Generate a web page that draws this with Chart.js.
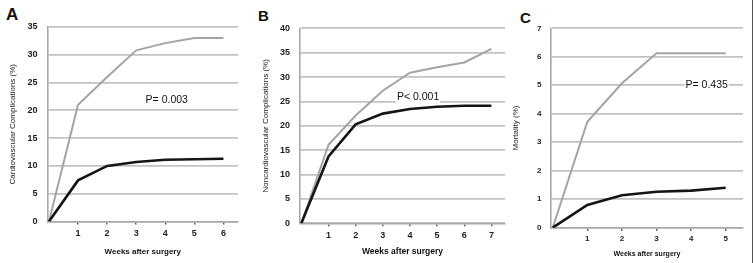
<!DOCTYPE html>
<html>
<head>
<meta charset="utf-8">
<script src="https://cdn.jsdelivr.net/npm/chart.js@4.4.0/dist/chart.umd.min.js"></script>
<style>
  body { margin: 0; background: #fff; width: 753px; height: 263px; overflow: hidden; position: relative; font-family: "Liberation Sans", Arial, sans-serif; }
  canvas { position: absolute; top: 0; }
  .tag { position: absolute; font-weight: bold; color: #111; line-height: 1; }
  #edge { position: absolute; left: 752px; top: 0; width: 1px; height: 263px; background: #555; }
</style>
</head>
<body>
<div class="tag" style="left:6px;top:6px;font-size:17px">A</div>
<div class="tag" style="left:258px;top:8px;font-size:15px">B</div>
<div class="tag" style="left:520px;top:9.5px;font-size:15px">C</div>
<canvas id="chartA" style="left:0px" width="245" height="263"></canvas>
<canvas id="chartB" style="left:251px" width="256" height="263"></canvas>
<canvas id="chartC" style="left:507px" width="246" height="263"></canvas>
<div id="edge"></div>
<script>
// values
const weeksA = [0, 1, 2, 3, 4, 5, 6];
const grayA = [0, 21, 26, 30.8, 32.1, 33, 33];
const blackA = [0, 7.4, 10, 10.7, 11.1, 11.2, 11.3];

const weeksB = [0, 1, 2, 3, 4, 5, 6, 7];
const grayB = [0, 16.1, 22.1, 27.2, 30.9, 32, 33, 35.8];
const blackB = [0, 13.7, 20.3, 22.5, 23.45, 23.9, 24.1, 24.1];

const weeksC = [0, 1, 2, 3, 4, 5];
const grayC = [0, 3.72, 5.07, 6.12, 6.12, 6.12];
const blackC = [0, 0.8, 1.14, 1.26, 1.3, 1.4];

const yTitles = ["Cardiovascular Complications (%)", "Noncardiovascular Complications (%)", "Mortality (%)"];
const yMax = [35, 40, 7];
const yStep = [5, 5, 1];
const xTitle = "Weeks after surgery";

const pTexts = ["P= 0.003", "P< 0.001", "P= 0.435"];
const pWeek = [4.05, 4.3, 4.45];
const pValue = [21.8, 25.8, 5.0];

Chart.defaults.font.family = '"Liberation Sans", Arial, sans-serif';

// P value label, drawn under the lines
const pLabel = {
  id: "pLabel",
  beforeDatasetsDraw(chart, args, o) {
    const ctx = chart.ctx;
    const x = chart.scales.x.getPixelForValue(o.week);
    const y = chart.scales.y.getPixelForValue(o.value);
    ctx.save();
    ctx.font = o.size + 'px "Liberation Sans", Arial, sans-serif';
    const w = ctx.measureText(o.text).width;
    ctx.fillStyle = "#fff";
    ctx.fillRect(x - w / 2 - 1, y - o.size / 2 - 1, w + 2, o.size + 2);
    ctx.fillStyle = "#111";
    ctx.textAlign = "center";
    ctx.textBaseline = "middle";
    ctx.fillText(o.text, x, y);
    ctx.restore();
  }
};

function points(weeks, vals) {
  return weeks.map((w, i) => ({ x: w, y: vals[i] }));
}

function makePanel(id, i, weeks, gray, black, L) {
  const n = weeks[weeks.length - 1];
  new Chart(document.getElementById(id), {
    type: "line",
    data: {
      datasets: [
        { data: points(weeks, black), borderColor: "#151515", borderWidth: 2.6, pointRadius: 0, tension: 0 },
        { data: points(weeks, gray), borderColor: "#a4a4a4", borderWidth: 2, pointRadius: 0, tension: 0 }
      ]
    },
    options: {
      responsive: false,
      animation: false,
      layout: { padding: { left: 0, top: L.top, right: L.right, bottom: 0 } },
      plugins: {
        legend: { display: false },
        tooltip: { enabled: false },
        pLabel: { text: pTexts[i], week: pWeek[i], value: pValue[i], size: L.pSize }
      },
      scales: {
        x: {
          type: "linear",
          min: -0.05,
          max: n + 0.5,
          afterFit: s => { s.height = L.xH; },
          afterBuildTicks: s => { s.ticks = s.ticks.filter(t => t.value >= 1 && t.value <= n); },
          ticks: { stepSize: 1, includeBounds: false, autoSkip: false, maxRotation: 0, padding: L.xTickPad, color: "#222", font: { size: L.tickFont, weight: "bold" } },
          grid: { drawOnChartArea: false, tickLength: 3, color: "#555", lineWidth: 1.5 },
          border: { color: "#a8a8a8", width: 1.6 },
          title: { display: true, text: xTitle, color: "#111", font: { size: L.xTitleFont, weight: "bold" }, padding: { top: 0, bottom: L.xTitlePad } }
        },
        y: {
          min: 0,
          max: yMax[i],
          afterFit: s => { s.width = L.axisW; },
          ticks: { stepSize: yStep[i], padding: L.yTickPad, color: "#222", font: { size: L.tickFont, weight: "bold" } },
          grid: { color: "#c2c2c2", lineWidth: 1.8, drawTicks: false },
          border: { color: "#a8a8a8", width: 1.6 },
          title: { display: true, text: yTitles[i], color: "#222", font: { size: L.yTitleFont }, padding: { top: L.yTitlePad, bottom: 0 } }
        }
      }
    },
    plugins: [pLabel]
  });
}

makePanel("chartA", 0, weeksA, grayA, blackA,
  { top: 27, right: 7, axisW: 47.5, xH: 41.5, xTickPad: 3.4, yTickPad: 10, tickFont: 9, xTitleFont: 8, xTitlePad: 6.5, yTitleFont: 8, yTitlePad: 8.2, pSize: 10.5 });
makePanel("chartB", 1, weeksB, grayB, blackB,
  { top: 28.3, right: 2, axisW: 49, xH: 39.7, xTickPad: 4.3, yTickPad: 10, tickFont: 9, xTitleFont: 8.5, xTitlePad: 6.2, yTitleFont: 8, yTitlePad: 10.2, pSize: 10.5 });
makePanel("chartC", 2, weeksC, grayC, blackC,
  { top: 28.3, right: 10, axisW: 44, xH: 35.3, xTickPad: 3.5, yTickPad: 9.5, tickFont: 8, xTitleFont: 7, xTitlePad: 5.2, yTitleFont: 8, yTitlePad: 4.2, pSize: 10.5 });
</script>
</body>
</html>
